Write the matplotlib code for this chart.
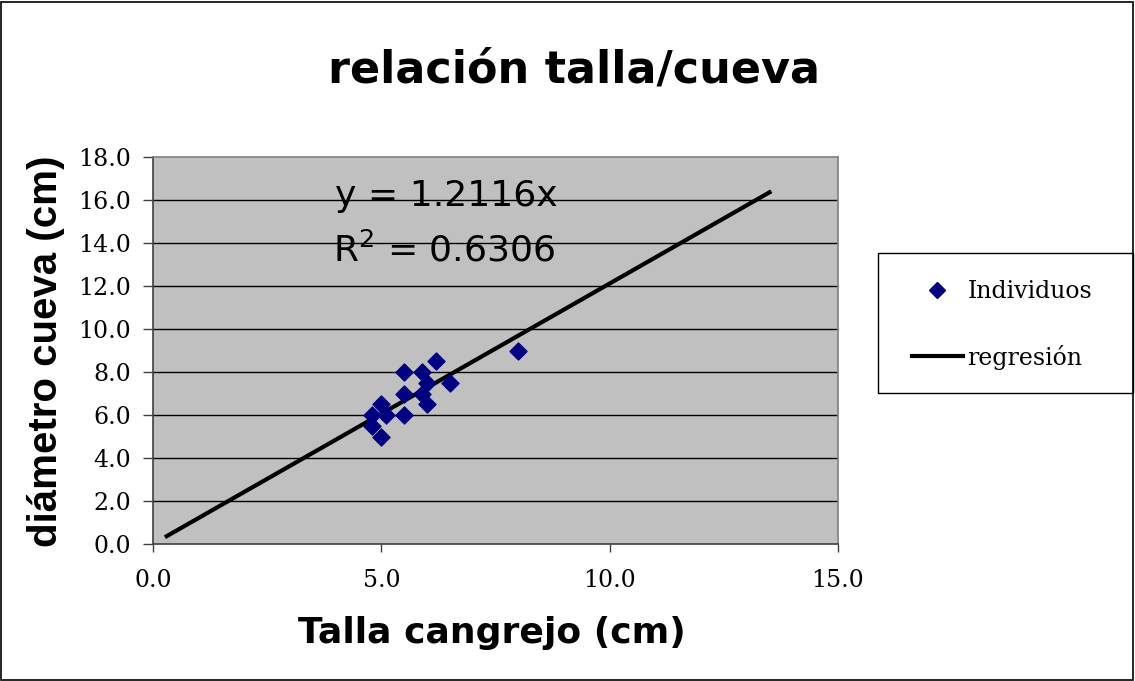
import matplotlib.pyplot as plt
from matplotlib.patches import Rectangle
from matplotlib.lines import Line2D

# datos
talla = [8.0, 6.2, 5.5, 5.9, 6.0, 6.5, 5.5, 5.9, 6.0, 5.0, 4.8, 5.1, 5.5, 4.8, 5.0]
cueva = [9.0, 8.5, 8.0, 8.0, 7.5, 7.5, 7.0, 7.0, 6.5, 6.5, 6.0, 6.0, 6.0, 5.5, 5.0]
pendiente = 1.2116
r2 = 0.6306
x_linea = [0.3, 13.5]
y_linea = [pendiente * v for v in x_linea]
x_ticks = [0, 5, 10, 15]
y_ticks = list(range(0, 19, 2))

W, H = 1135, 681
fig = plt.figure(figsize=(W / 100, H / 100), dpi=100)
fig.patch.set_facecolor('white')
fig.add_artist(Rectangle((1 / W, 1 / H), 1 - 3 / W, 1 - 3 / H, transform=fig.transFigure,
                         fill=False, edgecolor='black', linewidth=1.2))

def fx(px):
    return px / W

def fy(py):
    return 1 - py / H

ax = fig.add_axes([fx(153), fy(544), (838 - 153) / W, (544 - 157) / H])
ax.set_facecolor('#C0C0C0')
ax.set_xlim(0, 15)
ax.set_ylim(0, 18)
ax.set_xticks(x_ticks)
ax.set_yticks(y_ticks)
ax.set_xticklabels(['%.1f' % v for v in x_ticks])
ax.set_yticklabels(['%.1f' % v for v in y_ticks])
for v in y_ticks[1:-1]:
    ax.axhline(v, color='black', linewidth=1, zorder=1)
for s in ax.spines.values():
    s.set_color('#808080')
    s.set_linewidth(1.2)
ax.spines['left'].set_color('#404040')
ax.spines['bottom'].set_color('#404040')
ax.tick_params(axis='x', direction='out', length=5.8, width=1, color='#404040',
               labelsize=17, pad=12)
ax.tick_params(axis='y', direction='out', length=7, width=1, color='#404040',
               labelsize=17, pad=9)
for lab in ax.get_xticklabels() + ax.get_yticklabels():
    lab.set_family('DejaVu Serif')

ax.scatter(talla, cueva, marker='D', s=75, color='#000080', zorder=3, label='Individuos')
ax.plot(x_linea, y_linea, color='black', linewidth=3, zorder=2, label='regresión')

# ecuacion de la recta
fig.text(fx(335), fy(206), 'y = %.4fx' % pendiente, fontsize=26, family='DejaVu Sans',
         va='baseline')
fig.text(fx(333), fy(262), 'R$^2$ = %.4f' % r2, fontsize=26, family='DejaVu Sans',
         va='baseline')

fig.text(fx(574), fy(83), 'relación talla/cueva', ha='center', va='baseline',
         fontsize=32, fontweight='bold', family='DejaVu Sans')
fig.text(fx(492), fy(643), 'Talla cangrejo (cm)', ha='center', va='baseline',
         fontsize=26, fontweight='bold', family='DejaVu Sans')
fig.text(fx(57), fy(351), 'diámetro cueva (cm)', ha='center', va='baseline',
         rotation=90, rotation_mode='anchor', fontsize=29, fontweight='bold',
         family='Liberation Sans')

# leyenda
fig.add_artist(Rectangle((fx(878), fy(393)), (1133 - 878) / W, (393 - 253) / H,
                         transform=fig.transFigure, fill=False, edgecolor='black', linewidth=1))
fig.add_artist(Line2D([fx(937)], [fy(290)], marker='D', markersize=8, color='#000080',
                      linestyle='none', transform=fig.transFigure))
fig.text(fx(968), fy(298), 'Individuos', va='baseline', fontsize=17, family='DejaVu Serif')
fig.add_artist(Line2D([fx(912), fx(963)], [fy(356), fy(356)], color='black',
                      linewidth=3, transform=fig.transFigure))
fig.text(fx(967), fy(365), 'regresión', va='baseline', fontsize=17, family='DejaVu Serif')

fig.savefig('out.png', dpi=100)
